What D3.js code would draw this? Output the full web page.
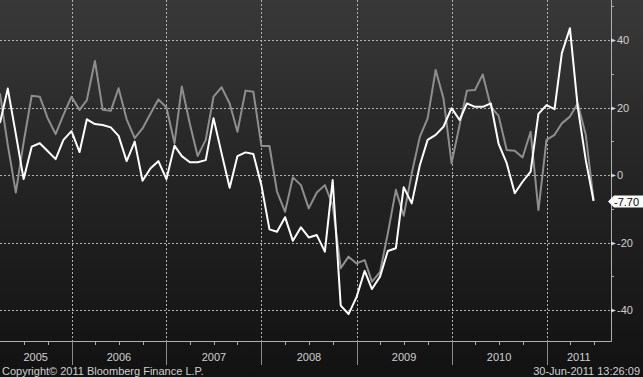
<!DOCTYPE html>
<html lang="en">
<head>
  <meta charset="UTF-8">
  <title>Bloomberg style line chart</title>
  <script src="https://d3js.org/d3.v7.min.js"></script>
  <style>
    body { margin: 0; background: #141414; }
    text { font-family: "Liberation Sans", Arial, sans-serif; font-size: 11px; }
  </style>
</head>
<body>
  <script>
    // 1. Data (monthly, Apr 2005 .. Jul 2011)
    const startMonth = "2005-04-01";
    const endMonth = "2011-08-01";
    const whiteSeries = [
      15.4, 25.6, 12.1, -1.2, 8.4, 9.4, 7.1, 4.7, 10.4,
      13.0, 6.8, 16.5, 15.1, 14.8, 14.1, 11.6, 4.1, 9.9, -1.7, 2.0, 4.1,
      -1.2, 8.7, 5.6, 3.8, 3.8, 4.4, 16.8, 6.4, -3.8, 5.6, 6.7, 6.2,
      -3.0, -16.1, -16.8, -12.5, -19.5, -15.5, -18.5, -17.8, -22.7, -1.5, -38.7, -41.2,
      -36.1, -28.4, -33.8, -30.1, -22.5, -21.7, -3.6, -8.4, 2.9, 10.4, 11.9, 14.3,
      19.8, 16.3, 21.2, 20.2, 20.2, 21.2, 9.2, 3.5, -5.4, -2.0, 1.0, 18.1,
      20.7, 19.5, 36.1, 43.5, 20.2, 4.4, -7.7
    ];
    const graySeries = [
      24.2, 8.9, -5.2, 9.7, 23.5, 23.2, 16.9, 12.1, 17.8,
      23.2, 19.3, 22.2, 33.8, 19.3, 19.0, 25.7, 16.5, 10.9, 13.8, 18.2, 22.4,
      20.0, 9.4, 26.2, 15.1, 5.6, 10.4, 23.2, 26.0, 21.2, 12.8, 25.0, 24.7,
      8.6, 8.6, -4.9, -10.9, -0.7, -3.0, -9.9, -5.2, -3.0, -8.9, -27.6, -24.2,
      -26.2, -25.2, -31.6, -28.8, -17.3, -4.4, -12.1, 0.5, 11.3, 16.8, 31.1, 22.7,
      3.5, 14.8, 25.0, 25.2, 29.8, 20.2, 17.5, 7.4, 7.2, 5.2, 12.8, -10.4,
      10.4, 11.9, 15.3, 17.3, 21.2, 11.9, -7.4
    ];
    const yearLabels = ["2005", "2006", "2007", "2008", "2009", "2010", "2011"];
    const yTicks = [40, 20, 0, -20, -40];
    const yMinorTicks = [50, 30, 10, -10, -30];
    const lastLabel = "-7.70";
    const copyright = "Copyright\u00A9 2011 Bloomberg Finance L.P.";
    const stamp = "30-Jun-2011 13:26:09";

    const months = d3.utcMonth.range(new Date(startMonth), new Date(endMonth));

    // 2. SVG
    const width = 643, height = 377;
    const plotRight = 611, plotBottom = 341;
    const svg = d3.select("body").append("svg")
      .attr("width", width).attr("height", height);

    const grad = svg.append("defs").append("linearGradient")
      .attr("id", "bg").attr("x1", 0).attr("y1", 0).attr("x2", 0).attr("y2", 1);
    [["0%", "#383838"], ["14%", "#333333"], ["30%", "#2b2b2b"], ["50%", "#232323"],
     ["70%", "#1c1c1c"], ["90%", "#151515"], ["100%", "#121212"]]
      .forEach(([o, c]) => grad.append("stop").attr("offset", o).attr("stop-color", c));
    svg.append("rect").attr("width", width).attr("height", height).attr("fill", "url(#bg)");

    svg.append("clipPath").attr("id", "plot")
      .append("rect").attr("x", 0).attr("y", 0).attr("width", plotRight).attr("height", plotBottom);

    // 3. Scales
    const x = d3.scaleUtc()
      .domain([new Date("2006-01-01"), new Date("2011-01-01")])
      .range([71.5, 546.5]);
    const y = d3.scaleLinear().domain([-40, 40]).range([310, 40]);

    // 4. Grid
    const yearStarts = yearLabels.map(s => new Date(s + "-01-01"));
    svg.append("g").selectAll("line").data(yTicks).join("line")
      .attr("x1", 0).attr("x2", plotRight)
      .attr("y1", d => Math.round(y(d)) + 0.5).attr("y2", d => Math.round(y(d)) + 0.5)
      .attr("stroke", "#b4b4b4").attr("stroke-dasharray", "2,2");
    svg.append("g").selectAll("line").data(yearStarts.slice(1)).join("line")
      .attr("x1", d => Math.round(x(d)) + 0.5).attr("x2", d => Math.round(x(d)) + 0.5)
      .attr("y1", 0).attr("y2", plotBottom)
      .attr("stroke", "#b4b4b4").attr("stroke-dasharray", "2,2");

    // 5. Lines
    const line = d3.line().x((d, i) => x(months[i])).y(d => y(d));
    const lines = svg.append("g").attr("clip-path", "url(#plot)");
    lines.append("path").datum(graySeries).attr("d", line)
      .attr("fill", "none").attr("stroke", "#8e8e8e").attr("stroke-width", 2)
      .attr("stroke-linejoin", "round");
    lines.append("path").datum(whiteSeries).attr("d", line)
      .attr("fill", "none").attr("stroke", "#ffffff").attr("stroke-width", 2)
      .attr("stroke-linejoin", "round");

    // 6. Axes
    const axisColor = "#b0b0b0";
    svg.append("line").attr("x1", plotRight + 0.5).attr("x2", plotRight + 0.5)
      .attr("y1", 0).attr("y2", plotBottom + 0.5).attr("stroke", axisColor);
    svg.append("line").attr("x1", 0).attr("x2", plotRight + 0.5)
      .attr("y1", plotBottom + 0.5).attr("y2", plotBottom + 0.5).attr("stroke", axisColor);

    const yAxis = svg.append("g");
    yAxis.selectAll("path").data(yTicks).join("path")
      .attr("d", d => {
        const yy = Math.round(y(d)) + 0.5;
        return `M${plotRight},${yy - 2}L${plotRight + 5},${yy}L${plotRight},${yy + 2}Z`;
      })
      .attr("fill", "#d8d8d8");
    yAxis.selectAll("line").data(yMinorTicks).join("line")
      .attr("x1", plotRight).attr("x2", plotRight + 3)
      .attr("y1", d => Math.round(y(d)) + 0.5).attr("y2", d => Math.round(y(d)) + 0.5)
      .attr("stroke", axisColor);
    yAxis.selectAll("text").data(yTicks).join("text")
      .attr("x", plotRight + 6).attr("y", d => y(d) + 4)
      .attr("fill", "#d0d0d0").text(d => d);

    // bottom: quarterly ticks and year separators
    const quarters = d3.utcMonth.every(3).range(new Date("2005-01-01"), new Date("2011-10-01"))
      .filter(d => x(d) >= 0 && x(d) <= plotRight);
    svg.append("g").selectAll("line").data(quarters).join("line")
      .attr("x1", d => Math.round(x(d)) + 0.5).attr("x2", d => Math.round(x(d)) + 0.5)
      .attr("y1", plotBottom).attr("y2", plotBottom + 4)
      .attr("stroke", axisColor);
    svg.append("g").selectAll("line").data(yearStarts.slice(1)).join("line")
      .attr("x1", d => Math.round(x(d)) + 0.5).attr("x2", d => Math.round(x(d)) + 0.5)
      .attr("y1", plotBottom).attr("y2", plotBottom + 24)
      .attr("stroke", "#8a8a8a");
    svg.append("g").selectAll("text").data(yearLabels).join("text")
      .attr("x", (d, i) => {
        const a = Math.max(0, x(yearStarts[i]));
        const b = Math.min(plotRight, x(d3.utcYear.offset(yearStarts[i], 1)));
        return (a + b) / 2;
      })
      .attr("y", 361).attr("text-anchor", "middle").attr("fill", "#d0d0d0").text(d => d);

    // 7. Last value tag
    const ly = Math.round(y(whiteSeries[whiteSeries.length - 1])) + 0.5;
    svg.append("path")
      .attr("d", `M${plotRight - 3},${ly}L${plotRight + 3},${ly - 6}L${width},${ly - 6}L${width},${ly + 6}L${plotRight + 3},${ly + 6}Z`)
      .attr("fill", "#ffffff");
    svg.append("text").attr("x", plotRight + 3).attr("y", ly + 4)
      .attr("fill", "#000000").text(lastLabel);

    // 8. Footer
    svg.append("text").attr("x", 2).attr("y", 375).attr("fill", "#d0d0d0").text(copyright);
    svg.append("text").attr("x", 640).attr("y", 375).attr("text-anchor", "end")
      .attr("fill", "#d0d0d0").text(stamp);
  </script>
</body>
</html>
